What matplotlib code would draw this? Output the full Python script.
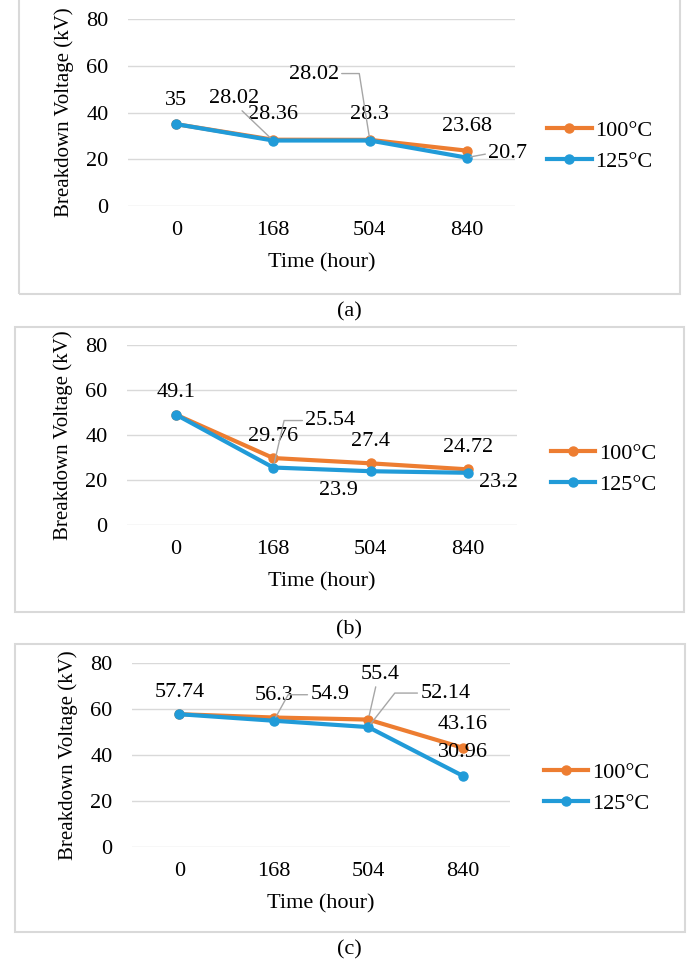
import matplotlib
matplotlib.use('Agg')
import matplotlib.pyplot as plt
from matplotlib.patches import Rectangle

plt.rcParams['font.family'] = ['Liberation Serif', 'DejaVu Serif']

# donnees
hours = ['0', '168', '504', '840']
series_names = ['100°C', '125°C']
yticks = [0, 20, 40, 60, 80]
captions = ['(a)', '(b)', '(c)']

a_100 = [35, 28.36, 28.3, 23.68]
a_125 = [35, 28.02, 28.02, 20.7]
b_100 = [49.1, 29.76, 27.4, 24.72]
b_125 = [49.1, 25.54, 23.9, 23.2]
c_100 = [57.74, 56.3, 55.4, 43.16]
c_125 = [57.74, 54.9, 52.14, 30.96]

colors = ['#ED7D31', '#219BD8']
FS = 16      # textes horizontaux
FS_Y = 15    # titre de l'axe y
W, H = 689, 967

# positions des etiquettes : (serie, point, decalage en px, ligne de rappel)
# ligne de rappel : None, ('line', relpos) ou ('angle', relpos, angleB)
labels_a = [(0, 0, (0, 24), None), (0, 1, (0, 25), None), (0, 2, (0, 25), None),
            (0, 3, (0, 24), None),
            (1, 1, (-39, 42), ('line', (0.6, 0))),
            (1, 2, (-56, 66), ('angle', (1, 0.55), 99)),
            (1, 3, (41, 4), ('line', (0, 0.5)))]
labels_b = [(0, 0, (0, 22), None), (0, 1, (0, 22), None), (0, 2, (0, 22), None),
            (0, 3, (0, 22), None),
            (1, 1, (57, 47), ('angle', (0, 0.5), 77)),
            (1, 2, (-32, -19), None),
            (1, 3, (30, -10), None)]
labels_c = [(0, 0, (0, 22), None), (0, 1, (0, 22), None),
            (1, 1, (56, 26), ('angle', (0, 0.5), 61)),
            (0, 2, (12, 45), ('line', (0.4, 0))),
            (1, 2, (77, 34), ('angle', (0, 0.5), 52)),
            (0, 3, (0, 23), None), (1, 3, (0, 23), None)]

panels = [
    dict(data=[a_100, a_125], labels=labels_a, ax=(128, 19, 515, 206),
         box=(19, -5, 680, 294), cap_y=312, leg=(1.083, 0.32)),
    dict(data=[b_100, b_125], labels=labels_b, ax=(127, 345, 517, 525),
         box=(15, 327, 684, 612), cap_y=630, leg=(1.087, 0.31)),
    dict(data=[c_100, c_125], labels=labels_c, ax=(132, 663, 510, 847),
         box=(15, 644, 685, 932), cap_y=950, leg=(1.09, 0.32)),
]


def rect(x0, y0, x1, y1):
    return [x0 / W, 1 - y1 / H, (x1 - x0) / W, (y1 - y0) / H]


fig = plt.figure(figsize=(W / 100, H / 100), dpi=100)

for k, p in enumerate(panels):
    bx = p['box']
    fig.patches.append(Rectangle((bx[0] / W, 1 - bx[3] / H), (bx[2] - bx[0]) / W,
                                 (bx[3] - bx[1]) / H, transform=fig.transFigure,
                                 fill=False, edgecolor='#D9D9D9', lw=1.5))
    ax = fig.add_axes(rect(*p['ax']))
    x = range(len(hours))
    for s in range(2):
        ax.plot(x, p['data'][s], color=colors[s], lw=3, marker='o', ms=6.5,
                label=series_names[s], zorder=3 + s)
    ax.set_xlim(-0.5, len(hours) - 0.5)
    ax.set_ylim(0, 80)
    ax.set_yticks(yticks)
    ax.set_xticks(list(x))
    ax.set_xticklabels(hours)
    ax.grid(axis='y', color='#D9D9D9', lw=1)
    ax.set_axisbelow(True)
    for sp in ax.spines.values():
        sp.set_visible(False)
    ax.tick_params(axis='y', length=0, pad=14, labelsize=FS)
    ax.tick_params(axis='x', length=0, pad=11, labelsize=FS)
    ax.set_xlabel('Time (hour)', fontsize=FS, labelpad=9)
    ax.set_ylabel('Breakdown Voltage (kV)', fontsize=FS_Y, labelpad=9)

    for s, i, off, leader in p['labels']:
        v = p['data'][s][i]
        props = None
        if leader is not None:
            props = dict(arrowstyle='-', color='#A6A6A6', lw=1, shrinkA=0, shrinkB=3,
                         relpos=leader[1])
            if leader[0] == 'angle':
                props['connectionstyle'] = 'angle,angleA=0,angleB=%d,rad=0' % leader[2]
        ax.annotate(f'{v:g}', xy=(i, v), xytext=off, textcoords='offset pixels',
                    ha='center', va='center', fontsize=FS, zorder=10,
                    arrowprops=props, annotation_clip=False)

    ax.legend(loc='center left', bbox_to_anchor=p['leg'], frameon=False,
              fontsize=FS, handlelength=2.0, handletextpad=0.15, labelspacing=0.45,
              borderpad=0, borderaxespad=0)

    fig.text(349 / W, 1 - p['cap_y'] / H, captions[k], ha='center', va='center',
             fontsize=FS)

fig.savefig('out.png', dpi=100)
